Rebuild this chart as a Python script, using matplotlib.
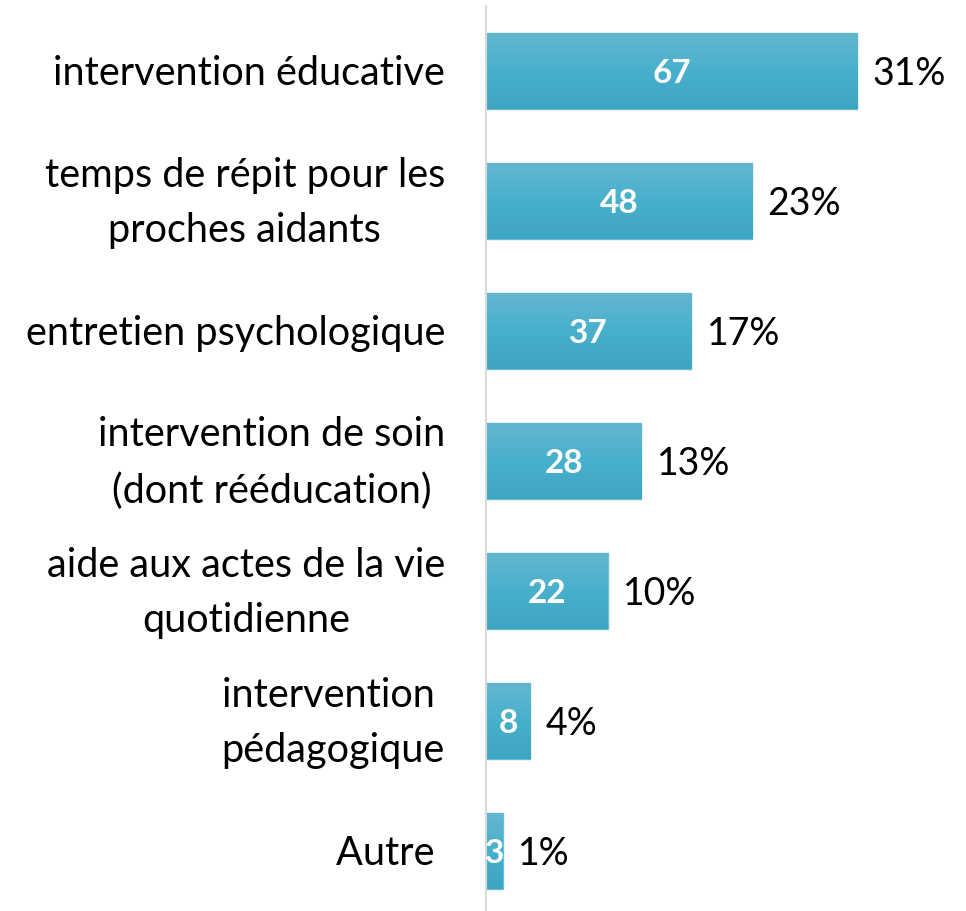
import numpy as np
import matplotlib
matplotlib.use('Agg')
import matplotlib.pyplot as plt
from matplotlib.transforms import ScaledTranslation, blended_transform_factory

categories = ['intervention éducative',
              'temps de répit pour les\nproches aidants',
              'entretien psychologique',
              'intervention de soin\n(dont rééducation)',
              'aide aux actes de la vie\nquotidienne',
              'intervention \npédagogique',
              'Autre ']
counts = [67, 48, 37, 28, 22, 8, 3]
percent_labels = ['31%', '23%', '17%', '13%', '10%', '4%', '1%']

plt.rcParams['font.family'] = ['Lato', 'DejaVu Sans']

fig = plt.figure(figsize=(9.66, 9.11), dpi=100)
ax = fig.add_axes([486 / 966, 0, 480 / 966, 905 / 911])

y = np.arange(len(categories))
bars = ax.barh(y, counts, height=0.58, color='#4aafcb', edgecolor='#6cbdd6', linewidth=1)

# vertical gradient like the original (lighter on top)
grad = np.linspace(0, 1, 100).reshape(-1, 1)
cmap = matplotlib.colors.LinearSegmentedColormap.from_list('g', ['#64b6d0', '#47b0cc', '#3ea5c3'])
for bar in bars:
    x0, y0 = bar.get_x(), bar.get_y()
    w, h = bar.get_width(), bar.get_height()
    im = ax.imshow(grad, cmap=cmap, aspect='auto', extent=(x0, x0 + w, y0 + h, y0), zorder=2)
    im.set_clip_path(bar)

for i, (v, p) in enumerate(zip(counts, percent_labels)):
    ax.text(v / 2, i + 0.02, str(v), ha='center', va='center', color='white',
            fontsize=24, fontweight='bold', zorder=3)
    ax.text(v + 2.8, i + 0.02, p, ha='left', va='center', color='black', fontsize=27, zorder=3)

# category labels drawn as text left of the axis
trans = blended_transform_factory(ax.transAxes, ax.transData)
for i, cat in enumerate(categories):
    dy = -2 / 100
    t = trans + ScaledTranslation(-41 / 100, dy, fig.dpi_scale_trans)
    ax.text(0, i, cat, transform=t, ha='right', va='center', multialignment='center',
            fontsize=28.5, linespacing=1.62)

ax.set_xlim(0, 86.6)
ax.set_ylim(6.46, -0.5)
ax.set_yticks([])
ax.set_xticks([])
for s in ['top', 'right', 'bottom']:
    ax.spines[s].set_visible(False)
ax.spines['left'].set_color('#d9d9d9')
ax.spines['left'].set_linewidth(1.5)

fig.savefig('out.png', dpi=100)
